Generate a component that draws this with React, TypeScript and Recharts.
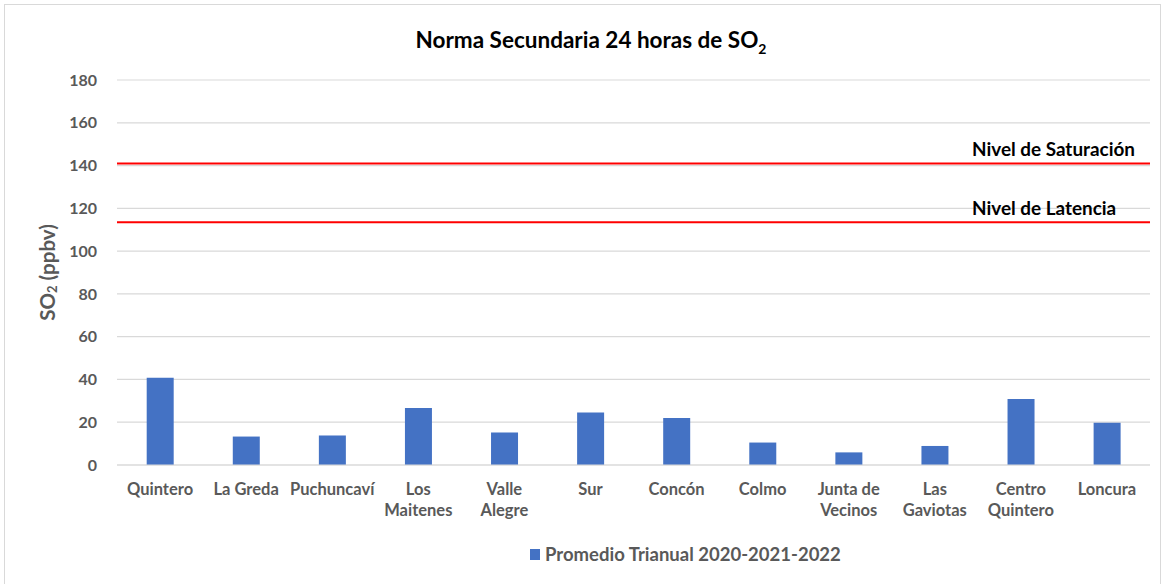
import React from 'react'
import { BarChart, Bar, XAxis, YAxis, CartesianGrid, ReferenceLine } from 'recharts'

// Estaciones y promedio trianual SO2 (ppbv)
const stations = [
  'Quintero',
  'La Greda',
  'Puchuncaví',
  'Los\nMaitenes',
  'Valle\nAlegre',
  'Sur',
  'Concón',
  'Colmo',
  'Junta de\nVecinos',
  'Las\nGaviotas',
  'Centro\nQuintero',
  'Loncura',
]
const promedio = [40.8, 13.3, 13.8, 26.7, 15.2, 24.5, 22.0, 10.5, 5.9, 8.9, 30.9, 19.8]
const yTicks = [0, 20, 40, 60, 80, 100, 120, 140, 160, 180]
const nivelSaturacion = 141
const nivelLatencia = 113.5
const seriesName = 'Promedio Trianual 2020-2021-2022'

const data = stations.map((s, i) => ({ name: s, value: promedio[i] }))

const FONT = 'Lato, "Open Sans", sans-serif'
const GRAY = '#595959'

const XTick = (props: any) => {
  const { x, y, payload } = props
  const lines = String(payload.value).split('\n')
  return (
    <text x={x} y={y + 22} textAnchor="middle" fill={GRAY} fontSize={16.5} fontWeight={700} fontFamily={FONT}>
      {lines.map((l, i) => (
        <tspan key={i} x={x} dy={i === 0 ? 0 : 21}>{l}</tspan>
      ))}
    </text>
  )
}

const YLabel = (props: any) => {
  const { viewBox } = props
  const cx = 47
  const cy = viewBox.y + viewBox.height / 2
  return (
    <text
      x={cx}
      y={cy}
      transform={`rotate(-90 ${cx} ${cy})`}
      textAnchor="middle"
      dominantBaseline="central"
      fill={GRAY}
      fontSize={20.5}
      fontWeight={700}
      fontFamily={FONT}
    >
      SO<tspan fontSize={13} dy={5}>2</tspan><tspan dy={-5}> (ppbv)</tspan>
    </text>
  )
}

const lineLabel = (text: string) => (props: any) => {
  const { viewBox } = props
  return (
    <text x={viewBox.x + 855} y={viewBox.y - 7} fill="#000" fontSize={18.9} fontWeight={700} fontFamily={FONT}>
      {text}
    </text>
  )
}

export default function App() {
  return (
    <div style={{ position: 'absolute', left: 0, top: 0, width: 1167, height: 584, background: '#fff', overflow: 'hidden' }}>
      <div
        style={{
          position: 'absolute',
          left: 4,
          top: 4,
          width: 1157,
          height: 600,
          border: '1.5px solid #d9d9d9',
          boxSizing: 'border-box',
        }}
      ></div>
      <div
        style={{
          position: 'absolute',
          left: 0,
          top: 26,
          width: 1182,
          textAlign: 'center',
          fontFamily: FONT,
          fontWeight: 700,
          fontSize: 22.5,
          color: '#000',
        }}
      >
        Norma Secundaria 24 horas de SO<sub style={{ fontSize: 14 }}>2</sub>
      </div>
      <div style={{ position: 'absolute', left: 0, top: 0 }}>
        <BarChart
          width={1167}
          height={584}
          data={data}
          margin={{ top: 80, right: 17, left: 0, bottom: 89 }}
          barCategoryGap="34.5%"
        >
          <CartesianGrid vertical={false} stroke="#d9d9d9" strokeWidth={1.2} />
          <XAxis
            dataKey="name"
            interval={0}
            tickLine={false}
            axisLine={{ stroke: '#d9d9d9', strokeWidth: 1.2 }}
            tick={<XTick />}
          />
          <YAxis
            width={117}
            domain={[0, 180]}
            ticks={yTicks}
            axisLine={false}
            tickLine={false}
            tickMargin={14}
            tick={{ fill: GRAY, fontSize: 16, fontWeight: 700, fontFamily: FONT }}
            label={<YLabel />}
          />
          <Bar dataKey="value" name={seriesName} fill="#4472c4" isAnimationActive={false} />
          <ReferenceLine y={nivelSaturacion} stroke="#ff0000" strokeWidth={2} label={lineLabel('Nivel de Saturación')} />
          <ReferenceLine y={nivelLatencia} stroke="#ff0000" strokeWidth={2} label={lineLabel('Nivel de Latencia')} />
        </BarChart>
      </div>
      <div
        style={{
          position: 'absolute',
          left: 530,
          top: 543,
          display: 'flex',
          alignItems: 'center',
          fontFamily: FONT,
          fontWeight: 700,
          fontSize: 18.5,
          color: GRAY,
          whiteSpace: 'nowrap',
        }}
      >
        <span style={{ width: 10, height: 11, background: '#4472c4', display: 'inline-block', marginRight: 5 }}></span>
        {seriesName}
      </div>
    </div>
  )
}
